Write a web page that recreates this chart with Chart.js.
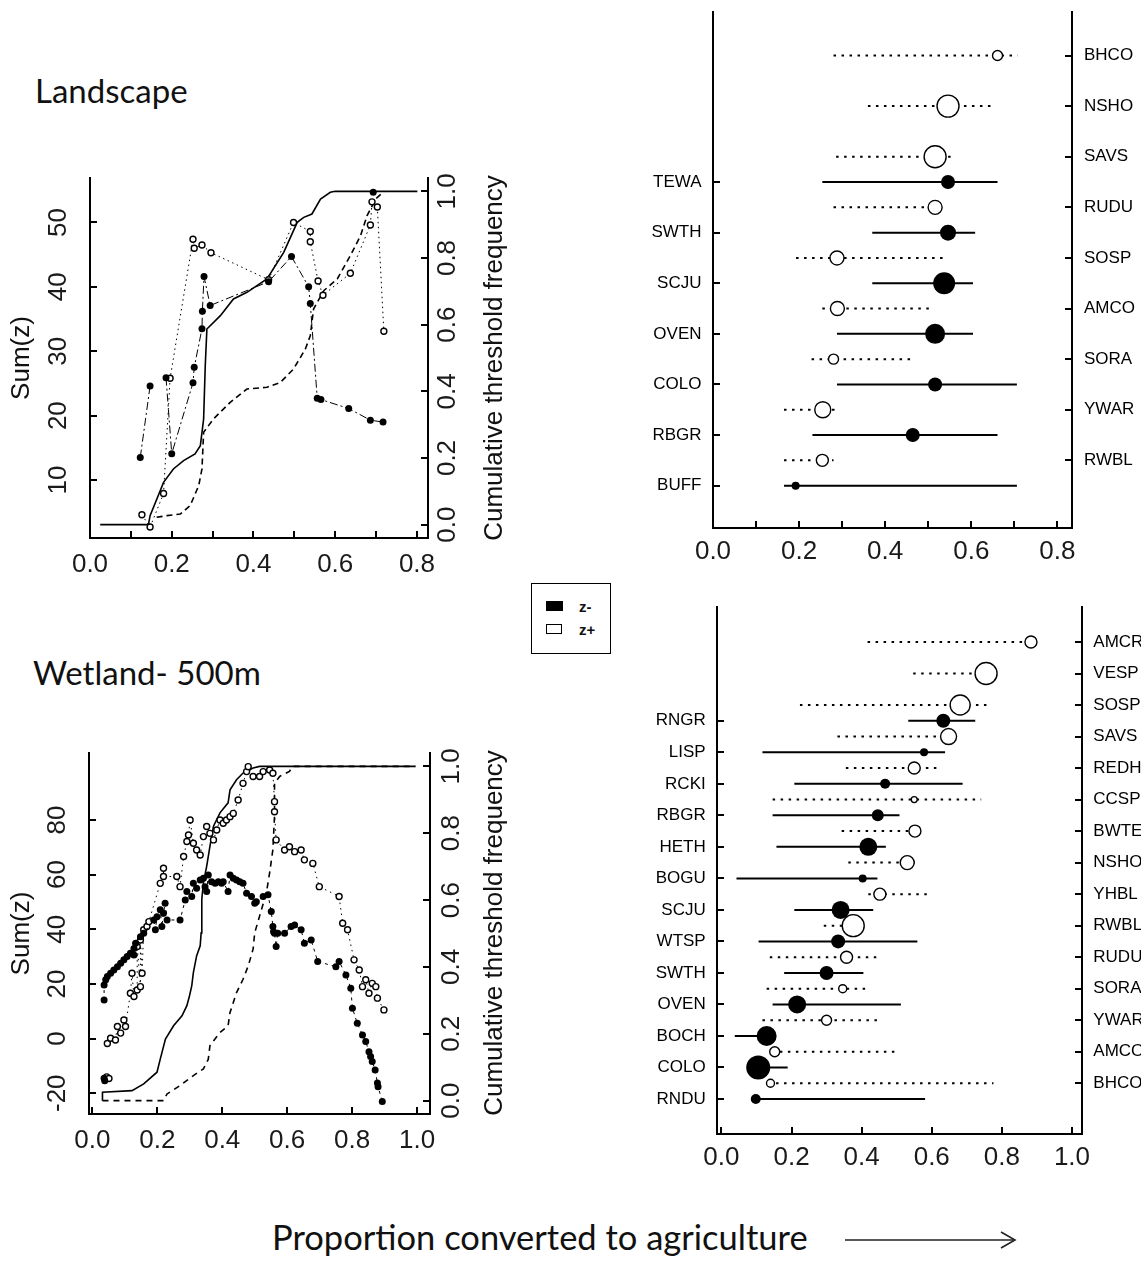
<!DOCTYPE html>
<html>
<head>
<meta charset="utf-8">
<script src="https://cdn.jsdelivr.net/npm/chart.js@4.4.1/dist/chart.umd.min.js"></script>
<style>
  html, body { margin:0; padding:0; background:#fff; }
  body { width:1141px; height:1262px; position:relative; overflow:hidden; font-family:"Liberation Sans", Arial, sans-serif; color:#111; }
  .pane { position:absolute; }
  .pane canvas { display:block; }
  .ptitle { position:absolute; font-family:Lato, "Open Sans", sans-serif; font-size:33px; line-height:1; white-space:nowrap; color:#111; }
  .rt { position:absolute; font-size:26px; line-height:1; white-space:nowrap; transform:translate(-50%,-50%) rotate(-90deg); color:#111; }
  #legend { position:absolute; left:531px; top:583px; width:78px; height:69px; border:1.5px solid #000; z-index:5; background:#fff; }
  .lg { position:absolute; font:bold 15px "Liberation Sans", Arial, sans-serif; line-height:1; }
  #xlab { position:absolute; left:272px; top:1220px; font-family:Lato, "Open Sans", sans-serif; font-size:34.5px; line-height:1; white-space:nowrap; color:#111; }
  #arrow { position:absolute; left:835px; top:1225px; }
</style>
</head>
<body>
<div class="ptitle" style="left:35px;top:74px">Landscape</div>
<div class="ptitle" style="left:33px;top:656px">Wetland- 500m</div>

<div class="pane" style="left:0;top:160px"><canvas id="tl" width="530" height="440"></canvas></div>
<div class="pane" style="left:600px;top:0"><canvas id="tr" width="541" height="600"></canvas></div>
<div class="pane" style="left:0;top:740px"><canvas id="bl" width="530" height="440"></canvas></div>
<div class="pane" style="left:600px;top:590px"><canvas id="br" width="541" height="620"></canvas></div>

<div class="rt" style="left:493px;top:358px">Cumulative threshold frequency</div>
<div class="rt" style="left:493px;top:933px">Cumulative threshold frequency</div>

<div id="legend">
  <div style="position:absolute;left:14px;top:17px;width:17px;height:10px;background:#000"></div>
  <div class="lg" style="left:47px;top:15px">z-</div>
  <div style="position:absolute;left:14px;top:40px;width:14px;height:8px;border:1.5px solid #000"></div>
  <div class="lg" style="left:47px;top:38px">z+</div>
</div>

<div id="xlab">Proportion converted to agriculture</div>
<svg id="arrow" width="190" height="30" viewBox="0 0 190 30">
  <line x1="10" y1="15" x2="180" y2="15" stroke="#222" stroke-width="1.6"/>
  <polyline points="166,7 180,15 166,23" fill="none" stroke="#222" stroke-width="1.6"/>
</svg>

<script>
// ================= DATA =================
// shared tick definitions
const FREQ_TICKS = [0, 0.2, 0.4, 0.6, 0.8, 1.0];
const FREQ_LABELS = ['0.0', '0.2', '0.4', '0.6', '0.8', '1.0'];
const X08_TICKS = [0, 0.1, 0.2, 0.3, 0.4, 0.5, 0.6, 0.7, 0.8];
const X08_LABELS = ['0.0', '', '0.2', '', '0.4', '', '0.6', '', '0.8'];
const X10_TICKS = [0, 0.2, 0.4, 0.6, 0.8, 1.0];
const X10_LABELS = ['0.0', '0.2', '0.4', '0.6', '0.8', '1.0'];

// ---- Landscape (top-left) ----
const TL_SUM_TICKS = [10, 20, 30, 40, 50];
const TL_CUM_NEG_X = [0.025,0.143,0.147,0.180,0.204,0.229,0.257,0.270,0.278,0.282,0.286,0.319,0.351,0.384,0.433,0.474,0.507,0.523,0.543,0.564,0.588,0.600,0.801];
const TL_CUM_NEG_Y = [0,0,0.027,0.127,0.167,0.192,0.212,0.237,0.317,0.477,0.587,0.627,0.677,0.697,0.737,0.817,0.907,0.922,0.932,0.977,0.997,1.0,1.0];
const TL_CUM_POS_X = [0.163,0.188,0.221,0.245,0.266,0.274,0.278,0.302,0.343,0.384,0.433,0.466,0.498,0.527,0.539,0.547,0.572,0.605,0.637,0.662,0.678,0.699,0.719];
const TL_CUM_POS_Y = [0.022,0.027,0.032,0.057,0.117,0.167,0.277,0.317,0.367,0.407,0.412,0.427,0.467,0.527,0.567,0.647,0.702,0.737,0.807,0.867,0.927,0.977,1.0];
const TL_NEG_X = [0.123,0.147,null,0.186,0.200,0.252,0.255,0.274,0.275,0.279,0.294,0.437,0.493,0.535,0.539,0.556,0.565,0.633,0.686,0.717];
const TL_NEG_Y = [13.5,24.6,null,25.9,14.1,25.1,27.5,33.5,36.2,41.6,37.1,40.8,44.7,40.0,37.4,22.7,22.5,21.1,19.3,19.0];
const TL_NEG_TOP_X = [0.693];
const TL_NEG_TOP_Y = [54.7];
const TL_POS_X = [0.127,0.147,0.180,0.196,0.252,0.255,0.274,0.296,0.437,0.498,0.539,0.539,0.558,0.570,0.637,0.686,0.690,0.703,0.719];
const TL_POS_Y = [4.6,2.7,7.9,25.8,47.4,46.0,46.5,45.3,41.1,50.0,48.6,47.0,40.9,38.7,42.1,49.6,53.2,52.4,33.1];

// ---- Landscape species (top-right) ----
const TR_POS_LABELS = ['BHCO','NSHO','SAVS','RUDU','SOSP','AMCO','SORA','YWAR','RWBL'];
const TR_POS_ROW = [1,2,3,4,5,6,7,8,9];
const TR_POS_MID = [0.661,0.546,0.516,0.516,0.288,0.289,0.280,0.255,0.254];
const TR_POS_LO  = [0.280,0.360,0.286,0.280,0.193,0.254,0.229,0.165,0.165];
const TR_POS_HI  = [0.708,0.657,0.563,0.516,0.536,0.509,0.462,0.284,0.280];
const TR_POS_WT  = [5,11,11,7,7,7,5,8,6];
const TR_NEG_LABELS = ['TEWA','SWTH','SCJU','OVEN','COLO','RBGR','BUFF'];
const TR_NEG_ROW = [3.5,4.5,5.5,6.5,7.5,8.5,9.5];
const TR_NEG_MID = [0.546,0.546,0.537,0.516,0.516,0.464,0.192];
const TR_NEG_LO  = [0.254,0.370,0.370,0.288,0.288,0.231,0.165];
const TR_NEG_HI  = [0.661,0.609,0.604,0.604,0.706,0.661,0.706];
const TR_NEG_WT  = [7,8,11,10,7,7,4];

// ---- Wetland-500m (bottom-left) ----
const BL_SUM_TICKS = [-20, 0, 20, 40, 60, 80];
const BL_CUM_NEG_X = [0.031,0.031,0.122,0.158,0.199,0.209,0.225,0.250,0.276,0.291,0.299,0.306,0.311,0.321,0.332,0.335,0.337,0.342,0.352,0.362,0.373,0.393,0.418,0.424,0.444,0.464,0.495,0.515,0.995];
const BL_CUM_NEG_Y = [0.0,0.025,0.030,0.050,0.085,0.124,0.184,0.224,0.254,0.284,0.313,0.343,0.383,0.433,0.463,0.502,0.602,0.652,0.701,0.761,0.821,0.861,0.891,0.930,0.960,0.980,0.995,1.0,1.0];
const BL_CUM_POS_X = [0.031,0.219,0.230,0.270,0.311,0.342,0.357,0.362,0.393,0.418,0.424,0.444,0.464,0.480,0.495,0.500,0.515,0.536,0.546,0.556,0.561,0.561,0.577,0.607,0.617,0.995];
const BL_CUM_POS_Y = [0.0,0.0,0.020,0.045,0.075,0.095,0.124,0.164,0.204,0.224,0.264,0.323,0.363,0.403,0.453,0.502,0.552,0.622,0.682,0.751,0.851,0.950,0.970,0.985,1.0,1.0];
const BL_NEG_X = [0.036,0.038,null,0.036,0.036,0.041,0.046,0.056,0.066,0.077,0.087,0.097,0.107,0.117,0.128,0.128,0.133,0.148,0.158,0.189,0.194,0.199,0.209,0.214,0.219,0.224,0.230,0.270,0.286,0.291,0.306,0.311,0.321,0.332,0.342,0.347,0.352,0.357,0.367,0.378,0.388,0.398,0.403,0.418,0.424,0.434,0.444,0.454,0.464,0.475,0.490,0.500,0.505,0.526,0.541,0.551,0.556,0.558,0.561,0.566,0.571,0.592,0.612,0.623,0.643,0.653,0.674,0.694,0.750,0.760,0.781,0.796,0.801,0.816,0.832,0.842,0.852,0.857,0.862,0.871,0.878,0.880,0.893];
const BL_NEG_Y = [-14.5,-15.4,null,14.1,19.6,21.5,22.7,23.9,25.1,26.3,27.6,28.8,30.0,31.2,33.0,30.6,34.9,37.3,38.5,43.4,39.8,44.6,47.1,41.0,45.9,49.5,43.4,43.4,50.7,53.8,52.0,56.8,55.0,58.0,58.7,55.6,53.8,59.9,57.4,56.8,57.4,56.8,57.4,53.8,59.9,58.7,58.0,57.4,56.8,53.2,52.0,49.5,50.1,52.0,52.6,46.5,41.0,39.1,38.5,33.7,38.5,38.5,41.0,41.6,39.8,34.9,36.1,28.2,26.3,28.2,23.3,18.4,11.1,5.6,1.3,-1.1,-4.8,-6.6,-8.4,-11.5,-16.3,-17.6,-23.0];
const BL_POS_X = [0.044,0.051,null,0.046,0.056,0.071,0.077,0.087,0.097,0.102,0.117,0.122,0.128,0.138,0.138,0.148,0.148,0.153,0.158,0.168,0.174,0.209,0.219,0.219,0.260,0.270,0.281,0.291,0.296,0.301,0.311,0.321,0.332,0.342,0.352,0.362,0.373,0.383,0.393,0.403,0.413,0.424,0.434,0.449,0.464,0.475,0.480,0.495,0.515,0.526,0.546,0.556,0.561,0.561,0.566,0.592,0.607,0.623,0.643,0.653,0.679,0.699,0.760,0.771,0.786,0.806,0.822,0.832,0.842,0.852,0.862,0.873,0.878,0.898];
const BL_POS_Y = [-14.0,-14.6,null,-1.8,0.1,-0.5,4.4,2.0,6.8,4.4,16.6,23.9,15.4,17.8,33.7,19.0,36.1,23.9,39.8,41.0,42.8,56.8,62.3,59.3,59.3,55.6,66.6,72.1,74.5,80.0,71.5,69.0,67.2,73.9,77.6,75.1,72.7,76.3,80.0,78.8,80.0,81.2,82.4,87.3,93.4,97.7,99.5,95.9,95.9,97.7,98.3,97.1,86.7,83.0,72.7,69.0,70.2,68.4,69.0,65.4,64.1,55.6,52.0,42.2,39.8,28.8,25.1,19.0,21.5,16.6,20.2,19.0,14.8,10.5];

// ---- Wetland-500m species (bottom-right) ----
const BR_POS_LABELS = ['AMCR','VESP','SOSP','SAVS','REDH','CCSP','BWTE','NSHO','YHBL','RWBL','RUDU','SORA','YWAR','AMCO','BHCO'];
const BR_POS_ROW = [1,2,3,4,5,6,7,8,9,10,11,12,13,14,15];
const BR_POS_MID = [0.883,0.755,0.681,0.648,0.550,0.550,0.552,0.530,0.452,0.376,0.357,0.346,0.300,0.152,0.140];
const BR_POS_LO  = [0.417,0.547,0.224,0.331,0.355,0.146,0.343,0.362,0.419,0.292,0.138,0.129,0.117,0.144,0.133];
const BR_POS_HI  = [0.883,0.755,0.765,0.648,0.616,0.741,0.560,0.567,0.595,0.376,0.457,0.416,0.457,0.502,0.776];
const BR_POS_WT  = [6,11,10,8,6,3,6,7,6,11,6,4,5,5,4];
const BR_NEG_LABELS = ['RNGR','LISP','RCKI','RBGR','HETH','BOGU','SCJU','WTSP','SWTH','OVEN','BOCH','COLO','RNDU'];
const BR_NEG_ROW = [3.5,4.5,5.5,6.5,7.5,8.5,9.5,10.5,11.5,12.5,13.5,14.5,15.5];
const BR_NEG_MID = [0.633,0.578,0.467,0.446,0.419,0.403,0.340,0.333,0.300,0.216,0.129,0.105,0.098];
const BR_NEG_LO  = [0.533,0.117,0.208,0.146,0.157,0.043,0.208,0.106,0.179,0.146,0.038,0.081,0.086];
const BR_NEG_HI  = [0.724,0.638,0.688,0.508,0.469,0.445,0.433,0.559,0.405,0.512,0.147,0.189,0.581];
const BR_NEG_WT  = [7,4,5,6,9,4,9,7,7,9,10,12,5];

// ================= HELPERS =================
Chart.defaults.font.family = '"Liberation Sans", Arial, sans-serif';
Chart.defaults.color = '#111';
Chart.defaults.animation = false;
const TICK_FONT = {size: 26};
const CAT_FONT = {size: 17};

function pts(X, Y) { return X.map((x, i) => ({x: x, y: Y[i]})); }
function ranges(LO, HI, ROW) {
  const d = [];
  LO.forEach((lo, i) => { d.push({x: lo, y: ROW[i]}, {x: HI[i], y: ROW[i]}, {x: null, y: null}); });
  return d;
}
function fixedTicks(values) { return s => { s.ticks = values.map(v => ({value: v})); }; }
function fixW(w) { return s => { s.width = w; s.paddingTop = 0; s.paddingBottom = 0; s.paddingLeft = 0; s.paddingRight = 0; }; }
function fixH(h) { return s => { s.height = h; s.paddingTop = 0; s.paddingBottom = 0; s.paddingLeft = 0; s.paddingRight = 0; }; }
function axis(o) {
  return Object.assign({
    type: 'linear',
    border: {display: true, color: '#000', width: 2},
    grid: {drawOnChartArea: false, color: '#000', lineWidth: 2, tickLength: -7}
  }, o);
}
function xAxis(min, max, ticks, labels, h, pad) {
  return axis({axis: 'x', position: 'bottom', min: min, max: max,
    afterBuildTicks: fixedTicks(ticks), afterFit: fixH(h),
    ticks: {autoSkip: false, minRotation: 0, maxRotation: 0, padding: pad, font: TICK_FONT, color: '#1a1a1a',
      callback: (v, i) => labels[i]}});
}
function rotY(pos, min, max, ticks, labels, w, pad, title) {
  const o = axis({axis: 'y', position: pos, min: min, max: max,
    afterBuildTicks: fixedTicks(ticks), afterFit: fixW(w),
    ticks: {autoSkip: false, minRotation: 90, maxRotation: 90, crossAlign: 'center', padding: pad,
      font: TICK_FONT, color: '#1a1a1a', callback: (v, i) => labels[i]}});
  if (title) o.title = {display: true, text: title, font: {size: 26}, color: '#111', padding: {top: 6, bottom: 0}};
  return o;
}
function catY(pos, min, max, rows, labels, w, pad) {
  return axis({axis: 'y', position: pos, min: min, max: max, reverse: true,
    afterBuildTicks: fixedTicks(rows), afterFit: fixW(w),
    ticks: {autoSkip: false, crossAlign: 'near', padding: pad, font: CAT_FONT, color: '#000',
      callback: (v, i) => labels[i]}});
}
function baseOptions(scales, top) {
  return {
    responsive: false, devicePixelRatio: 1, animation: false,
    layout: {padding: {top: top, left: 0, right: 0, bottom: 0}},
    plugins: {legend: {display: false}, tooltip: {enabled: false}},
    scales: scales
  };
}
function lineDs(data, yAxisID, dash, width, order) {
  return {data: data, yAxisID: yAxisID, showLine: true, borderColor: '#000', borderWidth: width,
    borderDash: dash, pointRadius: 0, fill: false, spanGaps: false, clip: false, order: order};
}
function markDs(data, yAxisID, radius, filled, lineDash, order) {
  return {data: data, yAxisID: yAxisID, showLine: !!lineDash, borderColor: '#000',
    borderWidth: 1, borderDash: lineDash || [], spanGaps: false,
    pointRadius: radius, pointBackgroundColor: filled ? '#000' : '#fff',
    pointBorderColor: '#000', pointBorderWidth: filled ? 0 : 1.4, clip: false, order: order};
}

// ================= TOP-LEFT: Landscape =================
new Chart(document.getElementById('tl'), {
  type: 'scatter',
  data: {datasets: [
    markDs(pts(TL_NEG_X, TL_NEG_Y), 'y', 3.5, true, [8, 3, 2, 3], 0),
    markDs(pts(TL_NEG_TOP_X, TL_NEG_TOP_Y), 'y', 3.5, true, null, 0),
    markDs(pts(TL_POS_X, TL_POS_Y), 'y', 3, false, [1.5, 3.5], 0),
    lineDs(pts(TL_CUM_NEG_X, TL_CUM_NEG_Y), 'yr', [], 1.6, 2),
    lineDs(pts(TL_CUM_POS_X, TL_CUM_POS_Y), 'yr', [6, 4], 1.6, 2)
  ]},
  options: baseOptions({
    x: xAxis(0, 0.827, X08_TICKS, X08_LABELS, 62, 18.4),
    y: rotY('left', 1.0, 56.9, TL_SUM_TICKS, TL_SUM_TICKS.map(String), 90, 24.2, 'Sum(z)'),
    yr: rotY('right', -0.04, 1.04, FREQ_TICKS, FREQ_LABELS, 102, 8.4)
  }, 18)
});

// ================= TOP-RIGHT: Landscape species =================
new Chart(document.getElementById('tr'), {
  type: 'scatter',
  data: {datasets: [
    markDs(pts(TR_NEG_MID, TR_NEG_ROW), 'y', TR_NEG_WT, true, null, 0),
    markDs(pts(TR_POS_MID, TR_POS_ROW), 'y2', TR_POS_WT, false, null, 0),
    lineDs(ranges(TR_NEG_LO, TR_NEG_HI, TR_NEG_ROW), 'y', [], 2, 1),
    lineDs(ranges(TR_POS_LO, TR_POS_HI, TR_POS_ROW), 'y2', [2.5, 5.5], 2, 1)
  ]},
  options: baseOptions({
    x: xAxis(0, 0.834, X08_TICKS, X08_LABELS, 72, 15.1),
    y: catY('left', 0.148, 10.337, TR_NEG_ROW, TR_NEG_LABELS, 113, 18.5),
    y2: catY('right', 0.148, 10.337, TR_POS_ROW, TR_POS_LABELS, 69, 19)
  }, 10)
});

// ================= BOTTOM-LEFT: Wetland-500m =================
new Chart(document.getElementById('bl'), {
  type: 'scatter',
  data: {datasets: [
    markDs(pts(BL_NEG_X, BL_NEG_Y), 'y', 3.5, true, [3, 4], 0),
    markDs(pts(BL_POS_X, BL_POS_Y), 'y', 3, false, [1.5, 4], 0),
    lineDs(pts(BL_CUM_NEG_X, BL_CUM_NEG_Y), 'yr', [], 1.6, 2),
    lineDs(pts(BL_CUM_POS_X, BL_CUM_POS_Y), 'yr', [6, 5], 1.6, 2)
  ]},
  options: baseOptions({
    x: xAxis(-0.0105, 1.04, X10_TICKS, X10_LABELS, 66, 18.4),
    y: rotY('left', -27.6, 104.5, BL_SUM_TICKS, BL_SUM_TICKS.map(String), 89, 19.2, 'Sum(z)'),
    yr: rotY('right', -0.04, 1.04, FREQ_TICKS, FREQ_LABELS, 100, 10.6)
  }, 13)
});

// ================= BOTTOM-RIGHT: Wetland-500m species =================
new Chart(document.getElementById('br'), {
  type: 'scatter',
  data: {datasets: [
    markDs(pts(BR_NEG_MID, BR_NEG_ROW), 'y', BR_NEG_WT, true, null, 0),
    markDs(pts(BR_POS_MID, BR_POS_ROW), 'y2', BR_POS_WT, false, null, 0),
    lineDs(ranges(BR_NEG_LO, BR_NEG_HI, BR_NEG_ROW), 'y', [], 2, 1),
    lineDs(ranges(BR_POS_LO, BR_POS_HI, BR_POS_ROW), 'y2', [2.5, 5.5], 2, 1)
  ]},
  options: baseOptions({
    x: xAxis(-0.0126, 1.0286, X10_TICKS, X10_LABELS, 76, 15.1),
    y: catY('left', -0.11, 16.61, BR_NEG_ROW, BR_NEG_LABELS, 117, 18.3),
    y2: catY('right', -0.11, 16.61, BR_POS_ROW, BR_POS_LABELS, 59, 18.3)
  }, 17)
});
</script>
</body>
</html>
